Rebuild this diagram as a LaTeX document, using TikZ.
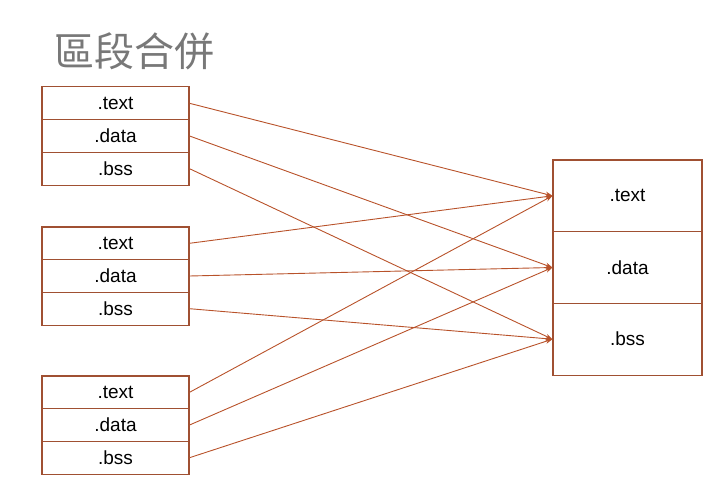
\documentclass[tikz,border=0pt]{standalone}
\usepackage{fontspec}
\setmainfont{Liberation Sans}
\newfontfamily\cjk{Noto Sans CJK TC}
\usetikzlibrary{arrows.meta}
\definecolor{linkred}{RGB}{184,82,42}
\definecolor{boxred}{RGB}{160,80,50}
\definecolor{titlegray}{RGB}{120,120,120}

\begin{document}
\begin{tikzpicture}[x=1pt,y=-1pt]

        \tikzset{
            sec/.style={draw=boxred, line width=1.1pt, fill=white, minimum width=147pt, minimum height=32.7pt, inner sep=0pt, font=\fontsize{19}{21}\selectfont},
            sec_out/.style={sec, minimum width=149pt, minimum height=71.7pt},
            link/.style={-{Stealth[length=7pt,width=5pt]}, draw=linkred, line width=0.9pt}
        }

        \useasboundingbox (0,0) rectangle (713,487);

        \node[anchor=west, inner sep=0pt, text=titlegray, font=\cjk\fontsize{40}{44}\selectfont] (title) at (54,51) {區段合併};

        % input objects
        \foreach \g/\y in {a/87, b/227, c/376} {
            \node[sec] (\g_text) at (115.5, \y+16.3) {.text};
            \node[sec] (\g_data) at (115.5, \y+49) {.data};
            \node[sec] (\g_bss) at (115.5, \y+81.7) {.bss};
        }

        % output
        \node[sec_out] (out_text) at (627.5, 195.8) {.text};
        \node[sec_out] (out_data) at (627.5, 267.5) {.data};
        \node[sec_out] (out_bss) at (627.5, 339.2) {.bss};

        \foreach \g in {a,b,c} {
            \foreach \s in {text,data,bss} {
                \draw[link] (\g_\s.east) -- (out_\s.west);
            }
        }

    \end{tikzpicture}
\end{document}
